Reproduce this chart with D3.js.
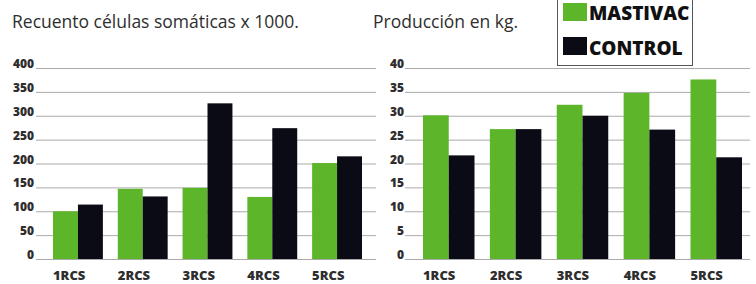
<!DOCTYPE html>
<html>
<head>
<meta charset="utf-8">
<script src="https://cdn.jsdelivr.net/npm/d3@7"></script>
<style>
  body { margin: 0; background: #fff; }
  svg { display: block; font-family: "Open Sans", sans-serif; }
</style>
</head>
<body>
<svg width="756" height="284"></svg>
<script>
// data
var categories = ["1RCS", "2RCS", "3RCS", "4RCS", "5RCS"];
var seriesNames = ["MASTIVAC", "CONTROL"];
var seriesColors = ["#5db52a", "#0b0b16"];

var rcsMastivac = [100, 147, 149, 130, 201];
var rcsControl = [114, 131, 326, 274, 215];
var rcsTicks = [0, 50, 100, 150, 200, 250, 300, 350, 400];

var prodMastivac = [30.1, 27.2, 32.3, 34.8, 37.6];
var prodControl = [21.7, 27.2, 30, 27.1, 21.3];
var prodTicks = [0, 5, 10, 15, 20, 25, 30, 35, 40];

var svg = d3.select("svg");

/* one panel = title, gridlines with labels, grouped bars, category labels */
function drawPanel(opt) {
    var g = svg.append("g");

    var y = d3.scaleLinear()
        .domain([0, d3.max(opt.ticks)])
        .range([259, 68]);

    var x = d3.scaleBand()
        .domain(categories)
        .range(opt.barRange)
        .paddingInner(0.23)
        .paddingOuter(0);

    var xs = d3.scaleBand()
        .domain(seriesNames)
        .range([0, x.bandwidth()])
        .padding(0);

    g.append("text")
        .attr("x", opt.titleX)
        .attr("y", 27.5)
        .attr("fill", "#2e2e2e")
        .style("font-size", "17.5px")
        .text(opt.title);

    // gridlines: ticks drawn leftwards from the right end
    var axis = d3.axisLeft(y)
        .tickValues(opt.ticks)
        .tickSize(opt.gridRight - opt.gridLeft)
        .tickPadding(opt.gridLeft - opt.labelRight);

    var ag = g.append("g")
        .attr("transform", "translate(" + opt.gridRight + ",0)")
        .call(axis);
    ag.select(".domain").remove();
    ag.selectAll(".tick line").attr("stroke", "#a0a0a0").attr("stroke-width", 0.9);
    ag.selectAll(".tick text")
        .attr("dy", "-0.5")
        .attr("fill", "#2e2e2e")
        .style("font-size", "12px")
        .style("font-weight", 800)
        .style("font-family", "'Open Sans', sans-serif");

    var rows = categories.map(function (c, i) {
        return { cat: c, vals: [opt.a[i], opt.b[i]] };
    });

    g.selectAll("g.grp")
        .data(rows)
        .join("g")
        .attr("class", "grp")
        .attr("transform", function (d) { return "translate(" + x(d.cat) + ",0)"; })
        .selectAll("rect")
        .data(function (d) { return d.vals.map(function (v, k) { return { s: seriesNames[k], v: v, k: k }; }); })
        .join("rect")
        .attr("x", function (d) { return xs(d.s); })
        .attr("y", function (d) { return y(d.v); })
        .attr("width", xs.bandwidth())
        .attr("height", function (d) { return y(0) - y(d.v); })
        .attr("fill", function (d) { return seriesColors[d.k]; });

    g.selectAll("text.cat")
        .data(categories)
        .join("text")
        .attr("class", "cat")
        .attr("x", function (d) { return x(d); })
        .attr("y", 280)
        .attr("fill", "#2e2e2e")
        .style("font-size", "13px")
        .style("font-weight", 800)
        .text(function (d) { return d; });
}

drawPanel({
    title: "Recuento células somáticas x 1000.",
    titleX: 12,
    ticks: rcsTicks,
    a: rcsMastivac, b: rcsControl,
    barRange: [53, 362],
    gridLeft: 36, gridRight: 376, labelRight: 34
});

drawPanel({
    title: "Producción en kg.",
    titleX: 373,
    ticks: prodTicks,
    a: prodMastivac, b: prodControl,
    barRange: [423, 742],
    gridLeft: 405, gridRight: 750, labelRight: 404
});

// legend box
var lg = svg.append("g");
lg.append("rect")
    .attr("x", 557.5).attr("y", -1)
    .attr("width", 135).attr("height", 66.5)
    .attr("fill", "#fff")
    .attr("stroke", "#555").attr("stroke-width", 1);

seriesNames.forEach(function (name, i) {
    lg.append("rect")
        .attr("x", 563).attr("y", 3 + i * 34)
        .attr("width", 24).attr("height", 18)
        .attr("fill", seriesColors[i]);
    lg.append("text")
        .attr("x", 589).attr("y", 20 + i * 34.5)
        .attr("fill", "#111")
        .style("font-size", "19px")
        .style("font-weight", 800)
        .text(name);
});
</script>
</body>
</html>
